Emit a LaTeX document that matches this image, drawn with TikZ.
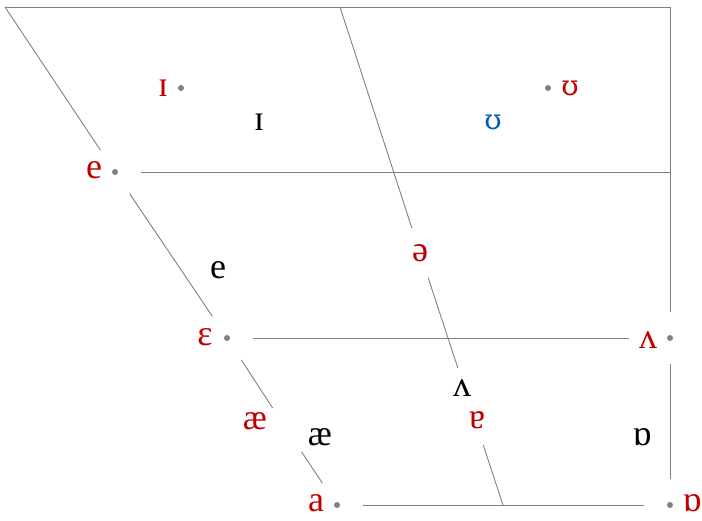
\documentclass[tikz,border=0pt]{standalone}
\usepackage{fontspec}
\setmainfont{Liberation Serif}
\newfontfamily\hsufont{DejaVu Serif}
\usetikzlibrary{positioning}

\definecolor{ipared}{RGB}{192,0,0}
\definecolor{ipablue}{RGB}{0,92,178}
\definecolor{linegray}{RGB}{128,128,128}

\newcommand{\hsu}{{\hsufont\fontsize{28}{32}\selectfont ʊ}}

\tikzset{
  vertex/.style={circle, minimum size=52pt, inner sep=0pt},
  vowel/.style={font=\fontsize{36}{40}\selectfont, fill=white, inner sep=4pt},
  oldvowel/.style={vowel, text=ipared},
  newvowel/.style={vowel, text=black},
  roundvowel/.style={vowel, text=ipablue},
  chart/.style={linegray, line width=0.9pt},
}

\begin{document}
\begin{tikzpicture}[x=1pt,y=-1pt]
  \useasboundingbox (0,0) rectangle (702,521);

  % Corners
  \coordinate (TL) at (5,7);
  \coordinate (TM) at (340,7);
  \coordinate (TR) at (670,7);
  \coordinate (R1) at (670,172);
  \coordinate (B2) at (503,505);

  % Vertices
  \node[vertex] (e) at (115,172) {};
  \node[vertex] (eps) at (227,338) {};
  \node[vertex] (ae) at (287,430) {};
  \node[vertex] (a) at (337,505) {};
  \node[vertex] (schwa) at (420,253) {};
  \node[vertex] (turna) at (475,420) {};
  \node[vertex] (wedge) at (670,338) {};
  \node[vertex] (openo) at (670,505) {};

  % Chart lines
  \draw[chart] (TL) -- (TR);
  \draw[chart] (TR) -- (wedge);
  \draw[chart] (wedge) -- (openo);
  \draw[chart] (TL) -- (e);
  \draw[chart] (e) -- (eps);
  \draw[chart] (eps) -- (ae);
  \draw[chart] (ae) -- (a);
  \draw[chart] (TM) -- (schwa);
  \draw[chart] (schwa) -- (turna);
  \draw[chart] (turna) -- (B2);
  \draw[chart] (e) -- (R1);
  \draw[chart] (eps) -- (wedge);
  \draw[chart] (a) -- (openo);

  % Old vowels
  \node[oldvowel] (l-smi) at (163,88) {ɪ};
  \node[oldvowel] (l-hsu) at (570,88) {\hsu};
  \node[oldvowel] (l-e) at (94,170) {e};
  \node[oldvowel] (l-eps) at (205,337) {ɛ};
  \node[oldvowel] (l-ae) at (255,421) {æ};
  \node[oldvowel] (l-a) at (316,503) {a};
  \node[oldvowel] (l-schwa) at (420,253) {ə};
  \node[oldvowel] (l-turna) at (477,420) {ɐ};
  \node[oldvowel, inner sep=10pt] (l-wedge) at (648,340) {ʌ};
  \node[oldvowel] (l-openo) at (692,503) {ɒ};

  % New vowels
  \node[newvowel] (n-smi) at (259,122) {ɪ};
  \node[newvowel] (n-e) at (218,270) {e};
  \node[newvowel] (n-ae) at (320,437) {æ};
  \node[newvowel, inner sep=12pt] (n-wedge) at (462,388) {ʌ};
  \node[newvowel] (n-openo) at (642,437) {ɒ};
  \node[roundvowel] (n-hsu) at (493,122) {\hsu};

  % Dots
  \fill[linegray] (181,88) circle (3pt);
  \fill[linegray] (548,88) circle (3pt);
  \fill[linegray] (e) circle (3pt);
  \fill[linegray] (eps) circle (3pt);
  \fill[linegray] (a) circle (3pt);
  \fill[linegray] (wedge) circle (3pt);
  \fill[linegray] (openo) circle (3pt);

\end{tikzpicture}
\end{document}
